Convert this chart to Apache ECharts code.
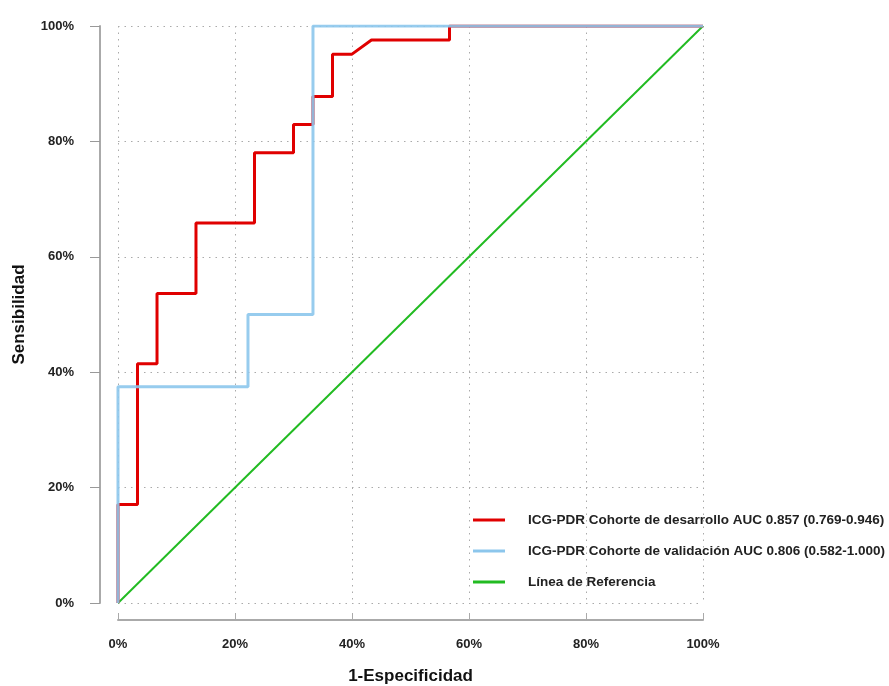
<!DOCTYPE html>
<html>
<head>
  <meta charset="utf-8">
  <title>Curva ROC</title>
  <style>
    body { margin: 0; background: #fff; }
    #roc { width: 889px; height: 686px; }
  </style>
  <script src="https://cdn.jsdelivr.net/npm/echarts@6.0.0/dist/echarts.min.js"></script>
</head>
<body>
  <div id="roc"></div>
  <script>
    // curva de la cohorte de desarrollo (1-especificidad, sensibilidad) en %
    var desarrolloX = [0, 0, 3.33, 3.33, 6.67, 6.67, 13.33, 13.33, 23.33, 23.33, 30, 30, 33.33, 33.33, 36.67, 36.67, 40, 43.33, 56.67, 56.67, 100];
    var desarrolloY = [0, 17.07, 17.07, 41.46, 41.46, 53.66, 53.66, 65.85, 65.85, 78.05, 78.05, 82.93, 82.93, 87.8, 87.8, 95.12, 95.12, 97.56, 97.56, 100, 100];
    // cohorte de validación
    var validacionX = [0, 0, 22.22, 22.22, 33.33, 33.33, 100];
    var validacionY = [0, 37.5, 37.5, 50, 50, 100, 100];
    // línea de referencia
    var referenciaX = [0, 100];
    var referenciaY = [0, 100];

    var nombres = [
      'ICG-PDR Cohorte de desarrollo AUC 0.857 (0.769-0.946)',
      'ICG-PDR Cohorte de validación AUC 0.806 (0.582-1.000)',
      'Línea de Referencia'
    ];

    function pares(xs, ys) {
      return xs.map(function (x, i) { return [x, ys[i]]; });
    }

    var fuente = "'Liberation Sans', Arial, sans-serif";
    var rejilla = { show: true, lineStyle: { type: [1.5, 5], color: '#aaa', width: 1 } };
    var chart = echarts.init(document.getElementById('roc'));

    chart.setOption({
      animation: false,
      grid: { left: 118, right: 186, top: 26, bottom: 83, outerBoundsMode: 'none' },
      legend: {
        orient: 'vertical',
        left: 468,
        top: 508,
        itemGap: 17,
        itemWidth: 32,
        itemHeight: 3,
        icon: 'rect',
        data: nombres,
        textStyle: {
          fontFamily: fuente,
          fontSize: 13.5,
          fontWeight: 'bold',
          color: '#222',
          padding: [0, 0, 0, 18]
        }
      },
      xAxis: {
        type: 'value',
        min: 0,
        max: 100,
        interval: 20,
        offset: 17,
        name: '1-Especificidad',
        nameLocation: 'middle',
        nameGap: 48,
        nameTextStyle: { fontFamily: fuente, fontSize: 17, fontWeight: 'bold', color: '#111' },
        axisLine: { onZero: false, lineStyle: { color: '#aaa', width: 2 } },
        axisTick: { inside: true, length: 7, lineStyle: { color: '#aaa' } },
        axisLabel: {
          formatter: '{value}%',
          margin: 18,
          fontFamily: fuente,
          fontSize: 13,
          fontWeight: 'bold',
          color: '#222'
        },
        splitLine: rejilla
      },
      yAxis: {
        type: 'value',
        min: 0,
        max: 100,
        interval: 20,
        offset: 18,
        name: 'Sensibilidad',
        nameLocation: 'middle',
        nameGap: 72,
        nameTextStyle: { fontFamily: fuente, fontSize: 17, fontWeight: 'bold', color: '#111' },
        axisLine: { show: true, onZero: false, lineStyle: { color: '#aaa', width: 2 } },
        axisTick: { show: true, length: 10, lineStyle: { color: '#999' } },
        axisLabel: {
          formatter: '{value}%',
          margin: 26,
          fontFamily: fuente,
          fontSize: 13,
          fontWeight: 'bold',
          color: '#222'
        },
        splitLine: rejilla
      },
      series: [
        {
          name: nombres[2],
          type: 'line',
          data: pares(referenciaX, referenciaY),
          symbol: 'none',
          z: 1,
          lineStyle: { color: '#22bb22', width: 2 },
          itemStyle: { color: '#22bb22' }
        },
        {
          name: nombres[0],
          type: 'line',
          data: pares(desarrolloX, desarrolloY),
          symbol: 'none',
          z: 2,
          lineStyle: { color: '#e00000', width: 3 },
          itemStyle: { color: '#e00000' }
        },
        {
          name: nombres[1],
          type: 'line',
          data: pares(validacionX, validacionY),
          symbol: 'none',
          z: 3,
          lineStyle: { color: '#8cc6ec', width: 3, opacity: 0.9 },
          itemStyle: { color: '#8cc6ec' }
        }
      ]
    });
  </script>
</body>
</html>
